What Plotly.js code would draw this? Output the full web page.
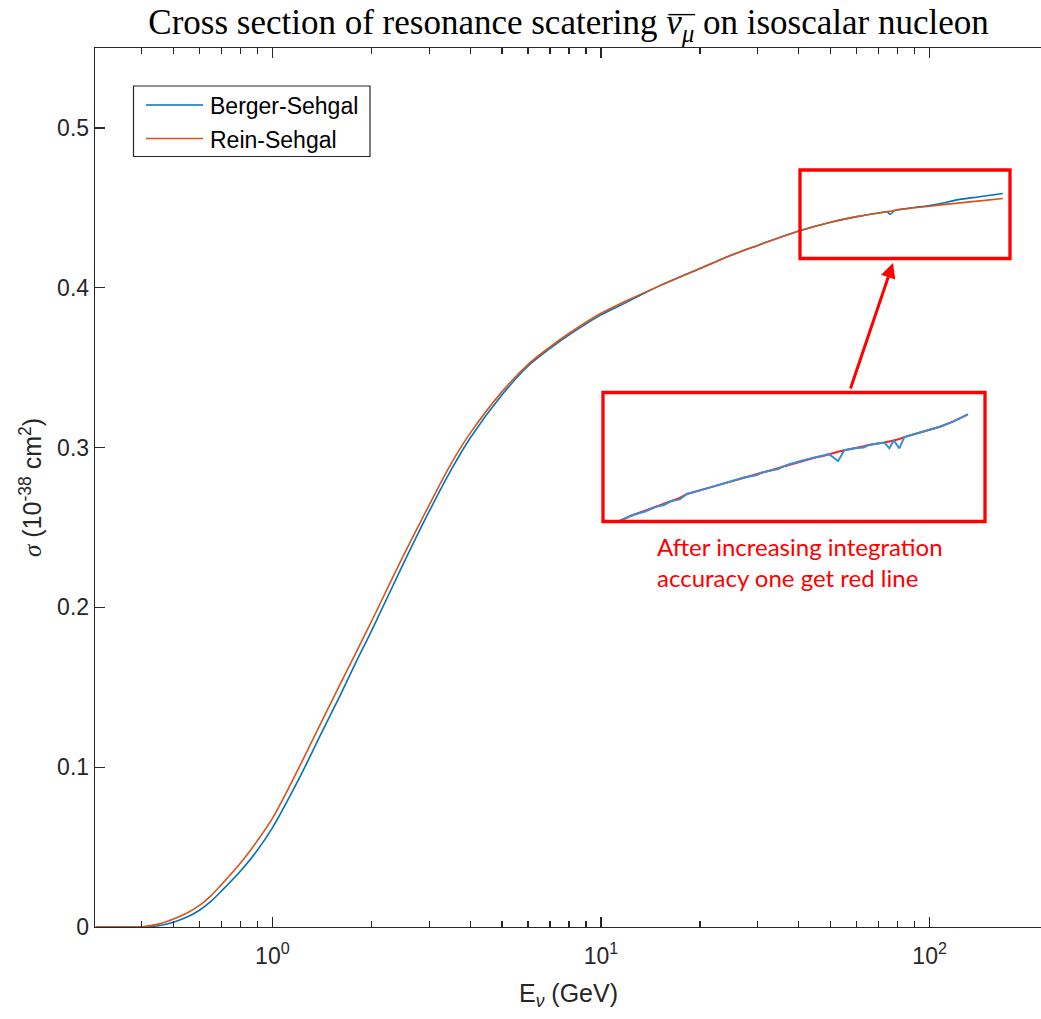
<!DOCTYPE html>
<html>
<head>
<meta charset="utf-8">
<script src="https://cdn.plot.ly/plotly-3.0.1.min.js"></script>
<style>
html,body{margin:0;padding:0;overflow:hidden;background:#fff;}
#chart{width:1046px;height:1019px;}
</style>
</head>
<body>
<div id="chart"></div>
<script>
// ---- data ----
const energyGeV = [0.29,0.35,0.40,0.45,0.50,0.55,0.60,0.65,0.70,0.80,0.90,1.0,1.2,1.4,1.6,1.8,2.0,2.5,3.0,3.5,4.0,5.0,6.0,7.0,8.0,10,12,15,20,25,30,40,50,60,70,74,76,78,80,90,100,110,120,140,167];
const sigmaReinSehgal = [0,0,0.0002,0.0018,0.0050,0.0088,0.0135,0.0195,0.0265,0.040,0.054,0.068,0.099,0.127,0.151,0.172,0.191,0.232,0.264,0.290,0.309,0.335,0.352,0.363,0.3715,0.384,0.392,0.401,0.412,0.4205,0.4265,0.4355,0.441,0.4445,0.4468,0.4475,0.4479,0.4483,0.4487,0.4500,0.4510,0.4520,0.4528,0.4542,0.4558];
const sigmaBergerSehgal = [0,0,0,0.0008,0.0030,0.0062,0.0105,0.0160,0.0225,0.035,0.048,0.062,0.092,0.120,0.144,0.166,0.185,0.227,0.260,0.286,0.306,0.333,0.351,0.362,0.3705,0.383,0.391,0.401,0.412,0.4205,0.4265,0.4355,0.441,0.4445,0.4468,0.4475,0.4460,0.4483,0.4488,0.4502,0.4515,0.4530,0.4548,0.4568,0.4590];

// zoomed inset (E from ~40 to 150 GeV)
const insetEnergy = [40.0,42.0,44.0,45.2,46.0,47.2,48.5,50.2,51.6,56.0,60.8,64.0,67.3,68.2,70.0,73.0,74.0,76.3,80.0,84.0,86.5,88.5,91.6,93.8,98.4,101.0,102.5,104.0,109.2,111.3,113.2,115.6,117.8,125.0,134.9,142.0,150.0];
const insetRed = [0.4370,0.43794,0.43865,0.43905,0.43942,0.43975,0.44020,0.44075,0.44139,0.44240,0.44342,0.44410,0.44468,0.44485,0.44515,0.44570,0.44585,0.44633,0.44690,0.44740,0.44764,0.44795,0.44835,0.44860,0.44896,0.44925,0.44940,0.44955,0.44985,0.45000,0.45020,0.45045,0.45075,0.45150,0.45246,0.45335,0.45450];
const insetBlue = [0.4370,0.43794,0.43850,0.43905,0.43935,0.43955,0.44020,0.44050,0.44139,0.44240,0.44342,0.44410,0.44450,0.44485,0.44515,0.44550,0.44585,0.44633,0.44690,0.44740,0.44764,0.44795,0.44682,0.44860,0.44896,0.44905,0.44940,0.44955,0.44985,0.44891,0.45020,0.44891,0.45075,0.45150,0.45246,0.45335,0.45450];

const xTickVals = [1,10,100];
const xTickText = ['10<sup>0</sup>','10<sup>1</sup>','10<sup>2</sup>'];
const xMinorTickVals = [0.4,0.5,0.6,0.7,0.8,0.9,2,3,4,5,6,7,8,9,20,30,40,50,60,70,80,90];
const yTickVals = [0,0.1,0.2,0.3,0.4,0.5];
const yTickText = ['0','0.1','0.2','0.3','0.4','0.5'];

// ---- layout geometry (pixels) ----
const W = 1046, H = 1019;
const L = 95, R = 1042, T = 48, B = 927;
const px = x => (x - L) / (R - L);
const py = y => (B - y) / (B - T);

const axisColor = '#262626';
const sans = 'Liberation Sans, Arial, sans-serif';
const serif = 'Liberation Serif, Times New Roman, serif';
const blue = '#0072BD', orange = '#D95319';
const titleSize = 35;

const traces = [
  {x: energyGeV, y: sigmaBergerSehgal, type:'scatter', mode:'lines', name:'Berger-Sehgal',
   line:{color:blue, width:1.6, shape:'spline', smoothing:1}, xaxis:'x', yaxis:'y'},
  {x: energyGeV, y: sigmaReinSehgal, type:'scatter', mode:'lines', name:'Rein-Sehgal',
   line:{color:orange, width:1.6, shape:'spline', smoothing:1}, xaxis:'x', yaxis:'y'},
  {x: insetEnergy, y: insetRed, type:'scatter', mode:'lines', name:'inset accurate',
   line:{color:'#ff2020', width:2}, xaxis:'x2', yaxis:'y2', showlegend:false, hoverinfo:'skip'},
  {x: insetEnergy, y: insetBlue, type:'scatter', mode:'lines', name:'inset Berger-Sehgal',
   line:{color:'#3a8fd3', width:2}, xaxis:'x2', yaxis:'y2', showlegend:false, hoverinfo:'skip'}
];

const red = '#ff0000';
const shapes = [
  // legend box
  {type:'rect', xref:'paper', yref:'paper', x0:px(133.5), x1:px(370), y0:py(86), y1:py(156.5),
   line:{color:axisColor, width:1.2}, fillcolor:'#ffffff', layer:'above'},
  {type:'line', xref:'paper', yref:'paper', x0:px(146), x1:px(203), y0:py(105), y1:py(105),
   line:{color:blue, width:1.6}},
  {type:'line', xref:'paper', yref:'paper', x0:px(146), x1:px(203), y0:py(138.5), y1:py(138.5),
   line:{color:orange, width:1.6}},
  // red highlight boxes
  {type:'rect', xref:'paper', yref:'paper', x0:px(800), x1:px(1010), y0:py(258.5), y1:py(170),
   line:{color:red, width:3.3}},
  {type:'rect', xref:'paper', yref:'paper', x0:px(603), x1:px(985), y0:py(521.5), y1:py(392.5),
   line:{color:red, width:3.3}}
];

const annotations = [
  {xref:'paper', yref:'paper', x:px(208), y:py(106), text:'Berger-Sehgal', showarrow:false,
   xanchor:'left', yanchor:'middle', font:{family:sans, size:23, color:'#000'}},
  {xref:'paper', yref:'paper', x:px(208), y:py(140), text:'Rein-Sehgal', showarrow:false,
   xanchor:'left', yanchor:'middle', font:{family:sans, size:23, color:'#000'}},
  // arrow
  {xref:'paper', yref:'paper', x:px(893), y:py(263), text:'', showarrow:true,
   ax:-43, ay:127, arrowhead:2, arrowsize:1, arrowwidth:3, arrowcolor:red, standoff:0, startstandoff:0},
  // red note
  {xref:'paper', yref:'paper', x:px(655), y:py(562), text:'After increasing integration<br>accuracy one get red line',
   showarrow:false, xanchor:'left', yanchor:'middle', align:'left',
   font:{family:'Lato, Open Sans, sans-serif', size:24, color:red}}
];

const layout = {
  width:W, height:H,
  margin:{l:L, r:W-R, t:T, b:H-B, pad:0},
  paper_bgcolor:'#ffffff', plot_bgcolor:'#ffffff',
  showlegend:false,
  title:{text:'Cross section of resonance scatering <i>ν</i><sub><i>μ</i></sub> on isoscalar nucleon',
         font:{family:serif, size:titleSize, color:'#000'}, x:0.5, xref:'paper', xanchor:'center',
         y:1-22/H, yref:'container', yanchor:'middle'},
  xaxis:{type:'log', range:[Math.log10(0.2886), 2.342], domain:[0,1],
         showline:true, mirror:'ticks', linecolor:axisColor, linewidth:1.3,
         ticks:'inside', ticklen:10, tickwidth:1.3, tickcolor:axisColor,
         tickvals:xTickVals, ticktext:xTickText, ticklabelstandoff:8,
         tickfont:{family:sans, size:23, color:axisColor},
         minor:{ticks:'inside', ticklen:6, tickwidth:1.3, tickcolor:axisColor,
                tickmode:'array', tickvals:xMinorTickVals, showgrid:false},
         showgrid:false, zeroline:false,
         title:{text:'E<sub><i>ν</i></sub> (GeV)', font:{family:sans, size:25, color:axisColor}, standoff:16}},
  yaxis:{range:[0,0.55], domain:[0,1],
         showline:true, mirror:true, linecolor:axisColor, linewidth:1.3,
         ticks:'inside', ticklen:10, tickwidth:1.3, tickcolor:axisColor,
         tickvals:yTickVals, ticktext:yTickText,
         tickfont:{family:sans, size:23, color:axisColor},
         showgrid:false, zeroline:false,
         title:{text:'<span style="font-family:Liberation Serif"><i>σ</i></span> (10<sup>-38</sup> cm<sup>2</sup>)',
                font:{family:sans, size:25, color:axisColor}, standoff:8}},
  xaxis2:{type:'log', domain:[px(603), px(985)], anchor:'y2',
          range:[1.574, 2.2043], visible:false, showgrid:false, zeroline:false},
  yaxis2:{domain:[py(521.5), py(392.5)], anchor:'x2',
          range:[0.43687, 0.45809], visible:false, showgrid:false, zeroline:false},
  shapes:shapes,
  annotations:annotations
};

Plotly.newPlot('chart', traces, layout, {staticPlot:true, displayModeBar:false}).then(gd => {
  // draw the bar over "nu_mu" in the title, measured from the rendered glyphs
  try {
    const spans = Array.from(gd.querySelectorAll('.gtitle tspan'));
    const nu = spans.find(s => s.textContent === 'ν');
    const mu = spans.find(s => s.textContent === 'μ');
    if (!nu || !mu) return;
    const g = gd.getBoundingClientRect();
    const rn = nu.getBoundingClientRect(), rm = mu.getBoundingClientRect();
    const baseline = rn.bottom - 0.216 * titleSize;
    const barY = baseline - 0.459 * titleSize - 4;
    const x0 = rn.left - g.left + 2, x1 = rm.right - g.left + 1;
    const y0 = barY - g.top;
    const toPaperX = v => (v - L) / (R - L);
    const toPaperY = v => (B - v) / (B - T);
    const newShapes = gd.layout.shapes.concat([{type:'line', xref:'paper', yref:'paper',
      x0:toPaperX(x0), x1:toPaperX(x1), y0:toPaperY(y0), y1:toPaperY(y0),
      line:{color:'#000', width:1.4}}]);
    Plotly.relayout(gd, {shapes:newShapes});
  } catch (e) {}
});
</script>
</body>
</html>
